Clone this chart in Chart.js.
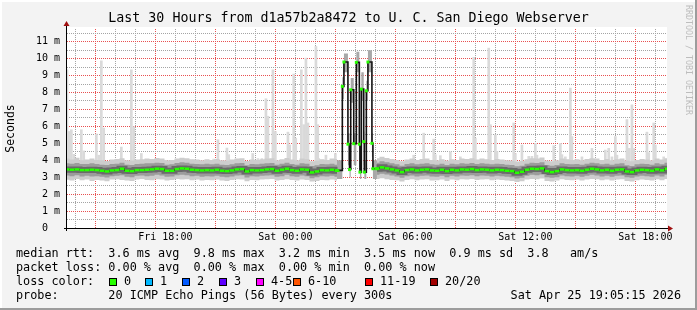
<!DOCTYPE html>
<html>
<head>
<meta charset="utf-8">
<script src="https://cdn.jsdelivr.net/npm/chart.js@4.4.1/dist/chart.umd.min.js"></script>
<style>
  html, body { margin: 0; padding: 0; background: #f3f3f3; }
  canvas { display: block; }
</style>
</head>
<body>
<canvas id="chart" width="697" height="310"></canvas>
<script>
'use strict';

// x axis = hours since Fri 00:00, window Fri 13:05 .. Sat 19:05
var START = 13 + 5 / 60;
var END = START + 30;
var STEP = 0.25;   // one smoke column every 15 minutes

// median rtt in ms (null = drawn by the burst series)
var median = [
  3.46,3.44,3.46,3.42,3.42,3.44,3.42,3.38,3.34,3.40,
  3.42,3.50,3.38,3.36,3.42,3.42,3.44,3.46,3.50,3.48,
  3.38,3.38,3.48,3.52,3.50,3.44,3.42,3.40,3.42,3.40,
  3.44,3.38,3.36,3.40,3.46,3.48,3.34,3.42,3.40,3.42,
  3.46,3.48,3.38,3.44,3.50,3.42,3.38,3.46,3.44,3.28,
  3.34,3.42,3.40,3.44,3.38,null,null,null,null,null,
  null,null,3.50,3.58,3.52,3.46,3.40,3.30,3.42,3.46,
  3.40,3.44,3.46,3.40,3.38,3.44,3.36,3.44,3.40,3.46,
  3.44,3.48,3.42,3.46,3.44,3.40,3.44,3.42,3.38,3.36,
  3.26,3.32,3.44,3.50,3.48,3.52,3.36,3.30,3.36,3.46,
  3.42,3.40,3.42,3.38,3.44,3.50,3.46,3.40,3.44,3.38,
  3.44,3.46,3.34,3.30,3.40,3.44,3.42,3.38,3.46,3.40,3.50
];
var outerLow = [
  2.85,2.80,2.90,2.82,2.86,2.78,2.84,2.80,2.76,2.86,
  2.88,2.84,2.80,2.78,2.86,2.90,2.84,2.82,2.88,2.86,
  2.80,2.84,2.90,2.86,2.88,2.82,2.86,2.80,2.84,2.82,
  2.86,2.80,2.78,2.84,2.88,2.86,2.76,2.84,2.82,2.86,
  2.88,2.90,2.80,2.84,2.88,2.84,2.80,2.86,2.84,2.74,
  2.78,2.84,2.82,2.86,2.80,null,null,null,null,null,
  null,null,2.90,2.94,2.88,2.84,2.82,2.74,2.84,2.88,
  2.82,2.86,2.88,2.80,2.82,2.86,2.78,2.86,2.82,2.88,
  2.86,2.90,2.84,2.86,2.88,2.82,2.86,2.84,2.80,2.78,
  2.72,2.76,2.86,2.90,2.88,2.92,2.78,2.74,2.80,2.88,
  2.84,2.82,2.86,2.80,2.86,2.90,2.88,2.82,2.86,2.80,
  2.86,2.88,2.78,2.74,2.82,2.86,2.84,2.80,2.88,2.82,2.90
];
var outerHigh = [
  4.10,4.05,4.15,4.00,4.05,4.10,4.02,4.00,3.96,4.05,
  4.08,4.12,4.00,3.98,4.04,4.06,4.10,4.08,4.14,4.10,
  4.00,4.02,4.10,4.15,4.12,4.06,4.04,4.00,4.06,4.02,
  4.08,4.00,3.98,4.04,4.10,4.12,3.96,4.04,4.02,4.06,
  4.10,4.12,4.00,4.06,4.14,4.04,4.00,4.10,4.06,3.94,
  3.98,4.06,4.02,4.10,4.08,null,null,null,null,null,
  null,null,4.12,4.20,4.14,4.08,4.02,3.94,4.04,4.10,
  4.02,4.08,4.10,4.02,4.00,4.06,3.98,4.06,4.02,4.10,
  4.08,4.12,4.04,4.10,4.06,4.02,4.08,4.04,4.00,3.98,
  3.92,3.96,4.06,4.12,4.10,4.16,3.98,3.94,4.00,4.10,
  4.06,4.02,4.06,4.00,4.08,4.12,4.10,4.02,4.08,4.00,
  4.06,4.10,3.98,3.94,4.02,4.08,4.04,4.00,4.10,4.04,4.12
];
var innerLow = [
  3.10,3.06,3.12,3.04,3.08,3.04,3.06,3.02,2.98,3.06,
  3.08,3.12,3.02,3.00,3.08,3.10,3.06,3.08,3.14,3.10,
  3.02,3.04,3.12,3.14,3.12,3.06,3.08,3.02,3.06,3.04,
  3.08,3.02,3.00,3.04,3.10,3.12,2.98,3.06,3.04,3.08,
  3.10,3.12,3.02,3.06,3.14,3.06,3.02,3.10,3.06,2.94,
  3.00,3.06,3.04,3.08,3.02,null,null,null,null,null,
  null,null,3.14,3.20,3.16,3.10,3.04,2.96,3.06,3.10,
  3.04,3.08,3.10,3.04,3.02,3.08,3.00,3.08,3.04,3.10,
  3.08,3.12,3.06,3.10,3.08,3.04,3.08,3.06,3.02,3.00,
  2.92,2.96,3.08,3.14,3.12,3.16,3.00,2.96,3.00,3.10,
  3.06,3.04,3.08,3.02,3.08,3.14,3.10,3.04,3.08,3.02,
  3.08,3.10,3.00,2.96,3.04,3.08,3.06,3.02,3.10,3.04,3.14
];
var innerHigh = [
  3.82,3.80,3.84,3.78,3.78,3.82,3.78,3.74,3.72,3.78,
  3.80,3.86,3.74,3.72,3.78,3.80,3.82,3.82,3.86,3.84,
  3.74,3.76,3.84,3.88,3.86,3.80,3.78,3.76,3.80,3.76,
  3.80,3.74,3.72,3.76,3.82,3.84,3.70,3.78,3.76,3.80,
  3.82,3.84,3.74,3.80,3.86,3.78,3.74,3.82,3.80,3.66,
  3.70,3.78,3.76,3.80,3.74,null,null,null,null,null,
  null,null,3.86,3.94,3.88,3.82,3.76,3.68,3.78,3.82,
  3.76,3.80,3.82,3.76,3.74,3.80,3.72,3.80,3.76,3.82,
  3.80,3.84,3.78,3.82,3.80,3.76,3.80,3.78,3.74,3.72,
  3.64,3.68,3.80,3.86,3.84,3.88,3.72,3.68,3.72,3.82,
  3.78,3.76,3.78,3.74,3.80,3.86,3.82,3.76,3.80,3.74,
  3.80,3.82,3.70,3.66,3.76,3.80,3.78,3.74,3.82,3.76,3.86
];

// the Sat 02:35 .. 04:35 latency burst, irregular sample times
var burstHours  = [26.58,26.85,26.93,27.13,27.21,27.27,27.42,27.55,27.70,27.73,27.80,27.92,27.95,28.05,28.13,28.33,28.38,28.58];
var burstMedian = [3.40, 8.36, 9.80, 4.95, 3.45, 8.16, 4.98, 9.78, 4.95, 3.30, 8.20, 5.10, 3.30, 8.10, 9.80, 5.00, 3.50, 3.50];
var burstLow    = [2.90, 7.60, 9.20, 3.70, 3.00, 7.40, 3.70, 9.20, 3.60, 2.90, 7.50, 3.70, 2.90, 7.50, 9.20, 4.20, 2.90, 2.90];
var burstHigh   = [4.00, 8.90,10.30, 5.60, 4.00, 8.85, 5.60,10.40, 5.80, 4.00, 9.20, 5.70, 4.00, 8.70,10.50, 5.60, 4.00, 4.00];

// single slow pings (max of the 20) sticking out of the smoke
var spikeHours = [13.08,13.17,13.30,13.42,13.80,13.92,14.55,14.67,14.80,14.92,15.80,15.88,16.30,16.42,16.80,17.58,18.00,
  20.42,20.63,21.08,21.17,22.37,22.63,22.83,23.03,23.13,23.38,23.50,24.13,24.22,24.42,24.52,24.80,24.92,25.03,25.13,
  25.53,25.62,25.67,26.03,26.50,30.42,30.92,31.42,31.50,31.75,32.25,32.75,33.42,33.50,34.17,34.25,34.50,34.58,
  35.42,35.50,35.83,36.17,36.33,36.50,36.58,37.42,37.75,37.83,38.00,38.25,38.33,38.83,39.33,40.00,40.17,40.33,
  40.50,40.58,41.08,41.20,41.33,41.42,42.08,42.17,42.42,42.50,42.92];
var spikeMax = [9.34,5.70,5.80,4.35,5.80,4.55,5.55,4.30,9.87,5.90,4.78,4.05,9.34,5.98,4.40,4.10,4.00,
  4.07,5.21,4.72,4.33,4.40,4.10,4.10,7.63,6.60,9.34,5.70,5.66,4.90,9.09,5.30,9.34,6.10,10.03,6.20,
  10.72,6.10,4.10,4.30,4.40,4.30,5.60,5.25,4.33,4.27,4.50,4.20,10.07,5.30,10.62,6.10,5.50,4.52,
  6.20,4.40,4.90,4.23,4.23,5.00,4.30,4.86,5.00,4.33,4.20,8.26,5.40,4.20,4.70,4.60,4.70,4.20,
  5.40,4.30,6.40,4.70,7.27,4.70,5.66,4.45,6.20,4.90,4.20];
var spikeFloor = 3.5;

var xLabelHours = [18, 24, 30, 36, 42];
var xLabelText = ['Fri 18:00', 'Sat 00:00', 'Sat 06:00', 'Sat 12:00', 'Sat 18:00'];

var lossNames = ['0', '1', '2', '3', '4-5', '6-10', '11-19', '20/20'];
var lossColors = ['#26ff00', '#00b8ff', '#0059ff', '#5e00ff', '#ff00ff', '#ff5500', '#ff0000', '#a10000'];

var statLines = [
  'median rtt:  3.6 ms avg  9.8 ms max  3.2 ms min  3.5 ms now  0.9 ms sd  3.8   am/s',
  'packet loss: 0.00 % avg  0.00 % max  0.00 % min  0.00 % now',
  'loss color:',
  'probe:       20 ICMP Echo Pings (56 Bytes) every 300s'
];

var MONO = "'DejaVu Sans Mono', 'Liberation Mono', monospace";
var RED_GRID = '#e85050';
var GRAY_GRID = '#a4a4a4';

var baseHours = median.map(function(_, i) { return START + i * STEP; });

function pts(times, vals) {
  return vals.map(function(v, i) { return { x: times[i], y: v }; });
}

var bandLine = { pointRadius: 0, borderWidth: 0, borderColor: 'rgba(0,0,0,0)', spanGaps: false };

var rrdFrame = {
  id: 'rrdFrame',
  beforeDraw: function(chart) {
    var ctx = chart.ctx, a = chart.chartArea;
    ctx.save();
    ctx.fillStyle = '#f3f3f3';
    ctx.fillRect(0, 0, chart.width, chart.height);
    ctx.fillStyle = '#ffffff';
    ctx.fillRect(a.left, a.top - 2, a.right - a.left, a.bottom - a.top + 2);
    ctx.restore();
  },
  afterDatasetsDraw: function(chart) {
    var ctx = chart.ctx, a = chart.chartArea;
    ctx.save();
    ctx.strokeStyle = '#000';
    ctx.lineWidth = 1;
    ctx.beginPath();
    ctx.moveTo(a.left - 3, a.bottom + 0.5);
    ctx.lineTo(a.right + 2, a.bottom + 0.5);
    ctx.moveTo(a.left - 0.5, a.bottom + 3);
    ctx.lineTo(a.left - 0.5, a.top - 4);
    ctx.stroke();
    ctx.fillStyle = '#a01010';
    ctx.beginPath();
    ctx.moveTo(a.left - 0.5, a.top - 8);
    ctx.lineTo(a.left - 3.5, a.top - 3);
    ctx.lineTo(a.left + 2.5, a.top - 3);
    ctx.closePath();
    ctx.fill();
    ctx.beginPath();
    ctx.moveTo(a.right + 6, a.bottom + 0.5);
    ctx.lineTo(a.right + 1, a.bottom - 2.5);
    ctx.lineTo(a.right + 1, a.bottom + 3.5);
    ctx.closePath();
    ctx.fill();
    ctx.restore();
  },
  afterDraw: function(chart) {
    var ctx = chart.ctx;
    ctx.save();
    ctx.fillStyle = '#000';
    ctx.textBaseline = 'middle';

    ctx.font = '13.3px ' + MONO;
    ctx.textAlign = 'center';
    ctx.fillText('Last 30 Hours from d1a57b2a8472 to U. C. San Diego Webserver', 348.5, 19);

    ctx.font = '11.8px ' + MONO;
    ctx.textAlign = 'left';
    var rows = [254, 268, 282, 296];
    statLines.forEach(function(s, i) { ctx.fillText(s, 16, rows[i]); });
    ctx.textAlign = 'right';
    ctx.fillText('Sat Apr 25 19:05:15 2026', 681, rows[3]);

    // loss colour swatches
    var boxX = [109, 145, 182, 219, 256, 293, 365, 430];
    ctx.textAlign = 'left';
    lossNames.forEach(function(name, i) {
      ctx.fillStyle = lossColors[i];
      ctx.fillRect(boxX[i], 278, 8, 8);
      ctx.strokeStyle = '#000';
      ctx.lineWidth = 1;
      ctx.strokeRect(boxX[i] + 0.5, 278.5, 7, 7);
      ctx.fillStyle = '#000';
      ctx.fillText(name, boxX[i] + 15, rows[2]);
    });

    // vertical credit text
    ctx.save();
    ctx.translate(688, 5);
    ctx.rotate(Math.PI / 2);
    ctx.font = '8.3px ' + MONO;
    ctx.fillStyle = '#bdbdbd';
    ctx.textAlign = 'left';
    ctx.fillText('RRDTOOL / TOBI OETIKER', 0, 0);
    ctx.restore();

    // 3d frame
    ctx.fillStyle = '#ffffff';
    ctx.fillRect(0, 0, chart.width, 2);
    ctx.fillRect(0, 0, 2, chart.height);
    ctx.fillStyle = '#9c9c9c';
    ctx.fillRect(chart.width - 2, 0, 2, chart.height);
    ctx.fillRect(0, chart.height - 2, chart.width, 2);
    ctx.restore();
  }
};

var ctx = document.getElementById('chart').getContext('2d');
var chart = new Chart(ctx, {
  type: 'line',
  data: {
    datasets: [
      { type: 'bar', data: spikeHours.map(function(h, i) { return { x: h, y: [spikeFloor, spikeMax[i]] }; }),
        backgroundColor: '#dadada', borderWidth: 0, barThickness: 2, order: 9 },

      Object.assign({ data: pts(baseHours, outerLow), stepped: 'middle', fill: false, order: 8 }, bandLine),
      Object.assign({ data: pts(baseHours, outerHigh), stepped: 'middle', fill: '-1', backgroundColor: '#cdcdcd', order: 8 }, bandLine),
      Object.assign({ data: pts(baseHours, innerLow), stepped: 'middle', fill: false, order: 7 }, bandLine),
      Object.assign({ data: pts(baseHours, innerHigh), stepped: 'middle', fill: '-1', backgroundColor: '#9c9c9c', order: 7 }, bandLine),
      Object.assign({ data: pts(burstHours, burstLow), stepped: 'before', fill: false, order: 6 }, bandLine),
      Object.assign({ data: pts(burstHours, burstHigh), stepped: 'before', fill: '-1', backgroundColor: '#a8a8a8', order: 6 }, bandLine),

      { data: pts(baseHours, median), stepped: 'middle', fill: false, pointRadius: 0,
        borderColor: '#6a6a6a', borderWidth: 6, order: 5 },
      { data: pts(baseHours, median), stepped: 'middle', fill: false, pointRadius: 0,
        borderColor: '#000', borderWidth: 1, order: 3 },
      { data: pts(burstHours, burstMedian), stepped: 'before', fill: false, pointRadius: 0,
        borderColor: '#111', borderWidth: 1.6, order: 3 },

      { data: pts(baseHours, median), showLine: false, pointStyle: 'line', pointRadius: 2.5,
        pointBorderWidth: 2.5, pointBorderColor: lossColors[0], order: 1 },
      { data: pts(burstHours, burstMedian), showLine: false, pointStyle: 'line', pointRadius: 1.5,
        pointBorderWidth: 3, pointBorderColor: lossColors[0], order: 1 }
    ]
  },
  options: {
    responsive: false,
    animation: false,
    devicePixelRatio: 1,
    events: [],
    layout: { padding: { top: 29, right: 30, bottom: 62, left: 0 } },
    plugins: { legend: { display: false }, tooltip: { enabled: false }, title: { display: false } },
    scales: {
      x: {
        type: 'linear', min: START, max: END, offset: false,
        afterBuildTicks: function(scale) {
          var t = [];
          for (var h = 14; h <= 43; h++) t.push({ value: h });
          scale.ticks = t;
        },
        afterFit: function(scale) { scale.height = 20; },
        grid: {
          drawTicks: false,
          lineWidth: 1,
          color: function(c) { return c.tick && c.tick.value % 3 === 0 ? RED_GRID : GRAY_GRID; }
        },
        border: { display: false, dash: [1, 1] },
        ticks: {
          autoSkip: false, maxRotation: 0, padding: 3, color: '#000',
          font: { family: MONO, size: 10 },
          callback: function(v) { var i = xLabelHours.indexOf(v); return i < 0 ? '' : xLabelText[i]; }
        }
      },
      y: {
        type: 'linear', min: 0, max: 11.75,
        afterBuildTicks: function(scale) {
          var t = [];
          for (var v = 0; v <= 11.5; v += 0.5) t.push({ value: v });
          scale.ticks = t;
        },
        afterFit: function(scale) { scale.width = 67; },
        grid: {
          drawTicks: false,
          lineWidth: 1,
          color: function(c) { return c.tick && c.tick.value % 1 === 0 ? RED_GRID : GRAY_GRID; }
        },
        border: { display: false, dash: [1, 1] },
        title: { display: true, text: 'Seconds', color: '#000', font: { family: MONO, size: 11.5 }, padding: { top: 4, bottom: 0 } },
        ticks: {
          autoSkip: false, padding: 7, color: '#000',
          font: { family: MONO, size: 10 },
          callback: function(v) {
            if (v % 1 !== 0) return '';
            return v === 0 ? '0  ' : v + ' m';
          }
        }
      }
    }
  },
  plugins: [rrdFrame]
});
</script>
</body>
</html>
